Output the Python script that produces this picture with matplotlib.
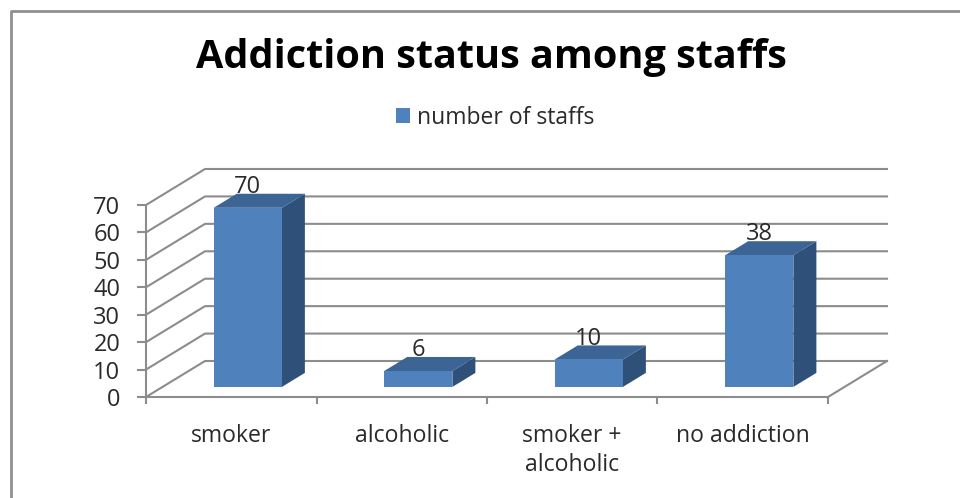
import matplotlib
matplotlib.use("Agg")
import matplotlib.pyplot as plt
from matplotlib.lines import Line2D
from matplotlib.patches import Patch, Polygon
import numpy as np

categories = ["smoker", "alcoholic", "smoker +\nalcoholic", "no addiction"]
bar_heights = [65.3, 5.8, 10.0, 48.0]
value_labels = ["70", "6", "10", "38"]
y_ticks = [0, 10, 20, 30, 40, 50, 60, 70]
series_name = "number of staffs"
title_text = "Addiction status among staffs"

W, H = 960, 498
X0, XPX = 146.0, 170.5
Y0, YPX = 397.0, 2.743
DEPTH_X = 59.0 / XPX
DEPTH_Y = 36.0 / YPX
BAR_W = 0.40
F0, F1 = 0.28, 0.67
FRONT, TOP, SIDE = "#4F81BD", "#3C6494", "#2F5078"
GRID = "#8C8C8C"
TEXT = "#2A2A2A"

plt.rcParams["font.family"] = ["Open Sans", "DejaVu Sans"]
fig = plt.figure(figsize=(W / 100, H / 100), dpi=100)
ax = fig.add_axes([0, 0, 1, 1])
ax.set_xlim(-X0 / XPX, (W - X0) / XPX)
ax.set_ylim((Y0 - H) / YPX, Y0 / YPX)
ax.patch.set_alpha(0)

for s in ("top", "right"):
    ax.spines[s].set_visible(False)
for s in ("left", "bottom"):
    ax.spines[s].set_position(("data", 0))
    ax.spines[s].set_color(GRID)
    ax.spines[s].set_linewidth(1.5)
ax.spines["left"].set_bounds(0, y_ticks[-1])
ax.spines["bottom"].set_bounds(0, len(categories))

ax.set_yticks(y_ticks)
ax.set_xticks(np.arange(len(categories) + 1))
ax.set_xticklabels([])
ax.set_xticks(np.arange(len(categories)) + 0.5, minor=True)
ax.set_xticklabels(categories, minor=True, fontsize=16.6, color=TEXT, linespacing=1.28, va="top")
ax.tick_params(axis="x", which="major", direction="out", length=5, width=1.5, color=GRID)
ax.tick_params(axis="x", which="minor", length=0, pad=19.5)
ax.tick_params(axis="y", direction="out", length=6.5, width=1.5, color=GRID, labelsize=17, labelcolor=TEXT, pad=12)

n = len(categories)
for v in y_ticks:
    ax.plot([0, DEPTH_X, n + DEPTH_X], [v, v + DEPTH_Y, v + DEPTH_Y], color=GRID, lw=1.5, zorder=1, clip_on=False)
ax.plot([n, n + DEPTH_X], [0, DEPTH_Y], color=GRID, lw=1.5, zorder=1)

for i, (h, lab) in enumerate(zip(bar_heights, value_labels)):
    xl = i + 0.5 - BAR_W / 2 + F0 * DEPTH_X
    xr = xl + BAR_W
    y0 = F0 * DEPTH_Y
    dx = (F1 - F0) * DEPTH_X
    dy = (F1 - F0) * DEPTH_Y
    ax.add_patch(Polygon([(xr, y0), (xr + dx, y0 + dy), (xr + dx, h + y0 + dy), (xr, h + y0)], fc=SIDE, ec="none", zorder=3))
    ax.add_patch(Polygon([(xl, h + y0), (xr, h + y0), (xr + dx, h + y0 + dy), (xl + dx, h + y0 + dy)], fc=TOP, ec="none", zorder=3))
    ax.bar(xl, h, width=BAR_W, bottom=y0, align="edge", color=FRONT, zorder=4)
    ax.annotate(lab, (xl + BAR_W / 2, h + y0), xytext=(0, 15), textcoords="offset points",
                ha="center", va="center", fontsize=17, color=TEXT, zorder=5)

ax.text(491 / W, 1 - 57.5 / H, title_text, transform=ax.transAxes, ha="center", va="center",
        fontsize=28.5, fontweight="bold", color="black", zorder=6)

leg = ax.legend(handles=[Patch(fc=FRONT, ec="none", label=series_name)], loc="center",
                bbox_to_anchor=(495.5 / W, 1 - 117.5 / H), frameon=False, fontsize=16.5,
                handlelength=0.62, handleheight=0.62, handletextpad=0.3, labelcolor=TEXT)

fig.add_artist(Line2D([10.5 / W, 10.5 / W, 1], [0, 1 - 11 / H, 1 - 11 / H], color="#8F8F8F", lw=2))
fig.savefig("out.png", dpi=100, facecolor="white")
